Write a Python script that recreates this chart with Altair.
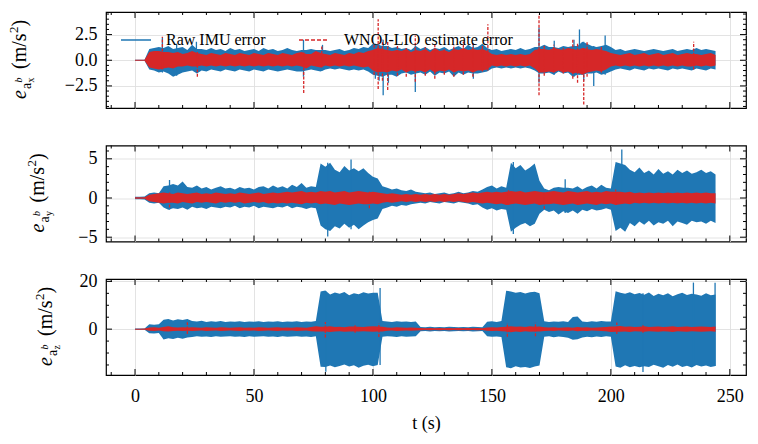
import altair as alt
import pandas as pd

T = list(range(0, 245, 2))

# panel 1: x-axis acceleration error -- bands (upper / lower envelope)
BU1 = [0.05, 0.05, 0.05, 1.1, 1.2, 1.3, 1.2, 1.4, 1.1, 1.2,
       1.3, 1.0, 1.5, 1.1, 1.1, 1.0, 1.2, 1.0, 1.1, 0.9,
       1.2, 1.0, 1.1, 0.9, 1.0, 1.1, 0.9, 1.2, 1.0, 1.1,
       0.9, 1.0, 1.2, 1.0, 0.9, 1.0, 1.0, 1.1, 1.0, 1.0,
       1.0, 0.9, 1.0, 1.1, 0.9, 1.0, 1.2, 1.1, 1.3, 1.2,
       1.6, 1.5, 1.4, 1.4, 1.2, 1.3, 1.1, 1.2, 1.0, 1.4,
       1.1, 1.3, 1.0, 1.2, 1.1, 1.3, 1.0, 1.2, 1.4, 1.1,
       1.5, 1.2, 1.3, 1.6, 1.2, 1.0, 1.1, 0.9, 1.0, 1.1,
       1.0, 1.2, 1.0, 1.1, 1.3, 1.3, 1.5, 1.3, 1.3, 1.2,
       1.4, 1.3, 1.4, 1.4, 1.8, 1.6, 1.4, 1.3, 1.4, 1.5,
       1.3, 1.0, 1.1, 0.9, 1.0, 1.1, 1.0, 0.9, 1.0, 1.1,
       1.0, 0.9, 1.0, 1.1, 0.9, 1.0, 1.1, 1.0, 1.2, 1.0,
       1.1, 1.0, 0.9]
BL1 = [-0.05, -0.05, -0.05, -0.9, -1.0, -1.2, -1.1, -1.3, -1.6, -1.4,
       -1.2, -1.1, -1.0, -1.3, -1.0, -1.1, -0.9, -1.0, -1.1, -0.9,
       -1.0, -1.1, -0.9, -1.0, -1.1, -0.9, -1.0, -1.1, -0.9, -1.0,
       -1.1, -1.0, -0.9, -1.0, -1.1, -1.1, -1.0, -0.9, -1.0, -1.1,
       -0.9, -0.8, -0.9, -0.8, -0.9, -1.0, -0.9, -1.0, -0.9, -1.1,
       -1.4, -1.5, -1.6, -1.4, -1.4, -1.6, -1.3, -1.2, -1.4, -1.3,
       -1.2, -1.4, -1.1, -1.5, -1.2, -1.3, -1.1, -1.6, -1.2, -1.4,
       -1.2, -1.3, -1.3, -1.2, -1.1, -0.8, -0.7, -0.8, -0.7, -0.8,
       -0.7, -0.8, -0.7, -0.8, -1.0, -1.3, -1.3, -1.2, -1.4, -1.1,
       -1.3, -1.2, -1.6, -1.4, -1.4, -1.3, -1.3, -1.2, -1.4, -1.3,
       -1.1, -0.9, -0.8, -0.9, -1.0, -0.8, -0.9, -1.0, -0.8, -0.9,
       -0.8, -0.9, -1.0, -0.8, -0.9, -0.8, -0.9, -1.0, -0.8, -0.9,
       -1.0, -0.8, -0.9]
RU1 = [0.05, 0.05, 0.05, 0.8, 0.9, 0.9, 0.8, 0.8, 0.7, 0.8,
       0.6, 0.7, 0.9, 0.7, 0.6, 0.5, 0.7, 0.6, 0.5, 0.7,
       0.6, 0.5, 0.7, 0.6, 0.5, 0.7, 0.6, 0.5, 0.7, 0.6,
       0.5, 0.7, 0.6, 0.5, 0.7, 0.8, 0.6, 0.6, 0.9, 0.7,
       0.6, 0.5, 0.7, 0.6, 0.5, 0.7, 0.6, 0.8, 0.7, 0.9,
       1.0, 1.2, 1.1, 1.0, 0.9, 1.0, 0.9, 1.1, 0.8, 1.0,
       0.9, 1.1, 0.8, 1.2, 0.9, 1.0, 0.8, 1.1, 1.0, 1.2,
       1.0, 1.1, 1.0, 1.1, 0.9, 0.6, 0.5, 0.6, 0.5, 0.6,
       0.5, 0.6, 0.5, 0.6, 1.0, 1.1, 1.1, 1.0, 1.2, 1.1,
       1.0, 1.2, 1.1, 1.0, 1.2, 1.1, 1.0, 1.1, 1.0, 0.9,
       0.7, 0.6, 0.5, 0.6, 0.7, 0.5, 0.6, 0.7, 0.5, 0.6,
       0.7, 0.5, 0.6, 0.7, 0.5, 0.6, 0.7, 0.6, 0.6, 0.5,
       0.6, 0.7, 0.5]
RL1 = [-0.05, -0.05, -0.05, -0.7, -0.8, -0.9, -0.8, -0.7, -0.8, -0.6,
       -0.6, -0.5, -0.6, -0.6, -0.5, -0.6, -0.5, -0.6, -0.5, -0.6,
       -0.5, -0.6, -0.5, -0.6, -0.5, -0.6, -0.5, -0.6, -0.5, -0.6,
       -0.5, -0.6, -0.5, -0.6, -0.5, -0.6, -0.8, -0.5, -0.6, -0.7,
       -0.5, -0.6, -0.5, -0.6, -0.5, -0.6, -0.5, -0.6, -0.7, -0.6,
       -1.0, -1.2, -1.1, -1.2, -1.0, -1.1, -0.9, -1.2, -1.0, -1.1,
       -1.0, -1.2, -0.9, -1.2, -1.0, -1.1, -0.9, -1.2, -1.0, -1.1,
       -1.0, -1.2, -1.0, -1.0, -0.9, -0.5, -0.6, -0.5, -0.6, -0.5,
       -0.6, -0.5, -0.6, -0.5, -0.8, -1.2, -1.2, -1.1, -1.2, -1.0,
       -1.2, -1.1, -1.3, -1.2, -1.4, -1.2, -1.1, -1.0, -1.1, -0.9,
       -0.6, -0.5, -0.6, -0.5, -0.6, -0.5, -0.6, -0.5, -0.6, -0.5,
       -0.6, -0.5, -0.6, -0.5, -0.6, -0.5, -0.6, -0.6, -0.5, -0.6,
       -0.5, -0.6, -0.5]
# panel 1 spikes: time, low end, high end
B1_SPK_T = [11.5, 17.5, 25.8, 70.8, 78.8, 101.0, 102.6, 104.3, 106.5, 117.8,
            142.2, 169.8, 176.2, 184.5, 186.8, 188.6, 192.8, 197.6]
B1_SPK_LO = [-1.2, -1.5, -1.0, -1.6, -1.0, -1.8, -2.0, -3.4, -2.2, -3.1,
             -1.8, -2.2, -1.4, -1.6, -1.4, -2.0, -2.5, -1.4]
B1_SPK_HI = [2.2, 1.6, 1.8, 2.0, 1.5, 1.6, 1.5, 2.0, 1.4, 1.4,
             1.6, 3.2, 1.9, 2.0, 3.0, 1.8, 1.4, 2.4]
R1_SPK_T = [11.5, 26.2, 70.9, 78.5, 100.5, 102.2, 104.0, 106.2, 110.3, 114.0,
            117.8, 122.0, 126.0, 130.0, 134.0, 138.0, 142.0, 146.0, 148.3, 169.8,
            172.0, 176.0, 180.0, 184.0, 186.0, 188.6, 190.0, 196.0, 234.8]
R1_SPK_LO = [-0.9, -1.6, -3.2, -0.7, -1.4, -2.8, -2.0, -2.9, -1.5, -1.6,
             -2.1, -1.5, -1.8, -1.4, -1.6, -1.4, -1.6, -1.1, -1.0, -3.4,
             -1.5, -1.2, -1.3, -1.8, -2.2, -4.3, -1.6, -1.2, -0.9]
R1_SPK_HI = [2.3, 0.8, 0.8, 1.4, 1.5, 4.0, 2.0, 1.8, 1.4, 1.2,
             2.4, 1.3, 1.6, 1.2, 1.5, 1.8, 1.6, 1.4, 3.5, 4.5,
             1.4, 1.5, 1.3, 2.0, 1.6, 1.2, 1.8, 1.4, 1.8]

# panel 2: y-axis acceleration error
BU2 = [0.15, 0.15, 0.2, 0.6, 0.7, 0.6, 1.5, 1.6, 1.8, 1.6,
       2.1, 1.4, 1.3, 1.6, 1.2, 1.4, 1.1, 1.3, 1.5, 1.2,
       1.3, 1.1, 1.4, 1.2, 1.3, 1.1, 1.4, 1.5, 1.2, 1.6,
       1.3, 1.5, 1.2, 1.7, 1.4, 1.9, 1.3, 1.5, 1.4, 4.4,
       4.0, 4.5, 3.6, 3.3, 4.1, 3.5, 3.8, 3.4, 3.8, 3.2,
       2.7, 2.5, 1.5, 1.3, 1.1, 1.2, 1.0, 0.9, 1.1, 0.8,
       0.7, 0.6, 0.7, 0.5, 0.6, 0.7, 0.5, 0.6, 0.8, 0.6,
       0.7, 0.9, 0.8, 1.1, 1.4, 1.6, 1.2, 1.5, 1.3, 4.5,
       3.8, 4.2, 3.5, 3.9, 4.4, 2.2, 1.2, 1.0, 1.3, 1.4,
       1.3, 1.3, 1.2, 1.5, 1.1, 1.4, 1.6, 1.2, 1.7, 1.3,
       1.2, 4.6, 4.4, 4.2, 3.6, 3.3, 3.9, 3.2, 3.5, 3.0,
       3.7, 3.1, 3.4, 3.0, 3.6, 3.2, 3.5, 3.1, 3.3, 3.6,
       3.2, 3.4, 3.0]
BL2 = [-0.15, -0.15, -0.2, -0.6, -0.7, -0.6, -1.2, -1.5, -1.3, -1.4,
       -1.2, -1.5, -1.1, -1.3, -1.2, -1.4, -1.1, -1.2, -1.3, -1.1,
       -1.2, -1.0, -1.3, -1.1, -1.2, -1.0, -1.3, -1.1, -1.2, -1.3,
       -1.1, -1.2, -1.0, -1.3, -1.1, -1.2, -1.4, -1.2, -1.3, -3.5,
       -4.0, -4.2, -3.6, -3.9, -3.3, -3.8, -3.4, -4.0, -3.5, -3.1,
       -2.8, -2.6, -1.4, -1.2, -1.0, -1.1, -0.9, -1.0, -0.8, -0.7,
       -0.6, -0.7, -0.5, -0.6, -0.7, -0.5, -0.6, -0.7, -0.5, -0.6,
       -0.7, -0.9, -0.8, -1.2, -1.5, -1.3, -1.6, -1.4, -1.5, -4.3,
       -3.8, -3.4, -3.2, -3.6, -3.3, -2.0, -1.5, -1.8, -1.6, -2.1,
       -1.7, -1.9, -1.6, -2.0, -1.5, -1.7, -1.4, -1.6, -1.5, -1.3,
       -1.5, -4.2, -3.8, -4.3, -3.2, -3.6, -3.0, -3.4, -2.9, -3.5,
       -3.1, -3.3, -2.9, -3.6, -3.0, -3.2, -3.4, -2.9, -3.1, -3.0,
       -3.3, -2.9, -3.2]
RU2 = [0.1, 0.1, 0.1, 0.4, 0.5, 0.6, 0.7, 0.6, 0.5, 0.7,
       0.6, 0.5, 0.6, 0.7, 0.5, 0.6, 0.5, 0.7, 0.6, 0.5,
       0.6, 0.5, 0.7, 0.6, 0.5, 0.6, 0.7, 0.5, 0.6, 0.7,
       0.6, 0.7, 0.8, 0.7, 0.8, 0.9, 0.7, 0.8, 0.7, 0.9,
       0.8, 0.9, 0.7, 0.8, 0.9, 0.7, 0.8, 0.9, 0.8, 0.7,
       0.8, 0.7, 0.6, 0.5, 0.6, 0.5, 0.4, 0.5, 0.4, 0.5,
       0.4, 0.5, 0.4, 0.5, 0.4, 0.5, 0.4, 0.5, 0.6, 0.5,
       0.6, 0.7, 0.6, 0.7, 0.8, 0.7, 0.8, 0.7, 0.8, 0.9,
       0.8, 0.9, 0.7, 0.8, 0.9, 0.8, 0.7, 0.8, 0.9, 0.8,
       0.7, 0.9, 0.8, 0.7, 0.8, 0.9, 0.7, 0.8, 0.7, 0.9,
       0.8, 0.8, 0.8, 0.7, 0.8, 0.6, 0.7, 0.6, 0.7, 0.6,
       0.7, 0.6, 0.7, 0.6, 0.7, 0.6, 0.7, 0.6, 0.7, 0.6,
       0.7, 0.6, 0.6]
RL2 = [-0.1, -0.1, -0.1, -0.4, -0.5, -0.6, -0.7, -0.6, -0.6, -0.7,
       -0.5, -0.6, -0.7, -0.5, -0.6, -0.5, -0.6, -0.7, -0.5, -0.6,
       -0.5, -0.6, -0.5, -0.7, -0.6, -0.5, -0.6, -0.5, -0.7, -0.6,
       -0.7, -0.6, -0.7, -0.6, -0.7, -0.8, -0.6, -0.7, -0.6, -0.8,
       -0.7, -0.8, -0.9, -0.7, -0.8, -0.9, -0.8, -0.7, -0.8, -0.8,
       -0.7, -0.8, -0.6, -0.5, -0.6, -0.5, -0.4, -0.5, -0.4, -0.5,
       -0.4, -0.5, -0.4, -0.5, -0.4, -0.5, -0.4, -0.5, -0.4, -0.5,
       -0.6, -0.5, -0.6, -0.7, -0.6, -0.7, -0.8, -0.7, -0.9, -0.8,
       -0.7, -0.8, -0.9, -0.8, -0.7, -0.9, -0.8, -0.8, -0.7, -0.8,
       -0.9, -0.8, -0.7, -0.9, -0.8, -0.7, -0.8, -0.9, -0.7, -0.8,
       -0.7, -0.9, -0.8, -0.7, -0.8, -0.6, -0.7, -0.6, -0.7, -0.6,
       -0.7, -0.6, -0.7, -0.6, -0.7, -0.6, -0.7, -0.6, -0.7, -0.6,
       -0.7, -0.6, -0.7]
B2_SPK_T = [14.5, 81.0, 90.8, 159.0, 180.8, 204.6]
B2_SPK_LO = [-1.5, -4.9, -4.0, -4.6, -1.9, -3.8]
B2_SPK_HI = [2.3, 4.5, 4.9, 4.6, 2.4, 6.2]
R2_SPK_T = [14.5, 98.5, 157.0, 172.0, 202.0]
R2_SPK_LO = [-1.2, -1.3, -0.9, -1.4, -0.9]
R2_SPK_HI = [0.7, 0.8, 1.0, 0.7, 1.1]

# panel 3: z-axis acceleration error
BU3 = [0.3, 0.3, 0.3, 2.0, 1.8, 2.1, 3.9, 4.3, 3.6, 4.1,
       3.8, 4.2, 3.4, 3.2, 3.5, 3.0, 3.3, 3.1, 3.4, 3.0,
       3.2, 3.1, 3.3, 3.0, 3.2, 3.1, 3.3, 3.0, 3.2, 3.1,
       3.3, 3.0, 3.2, 3.1, 3.3, 3.0, 3.2, 3.1, 3.4, 15.8,
       16.2, 14.5, 15.3, 14.8, 15.6, 14.2, 15.0, 14.6, 15.4, 14.9,
       15.2, 15.2, 3.4, 3.2, 3.0, 3.3, 3.1, 3.2, 3.0, 3.2,
       0.9, 0.8, 1.0, 0.8, 0.9, 0.8, 1.0, 0.9, 0.8, 0.9,
       0.8, 1.0, 0.9, 0.8, 3.1, 3.3, 3.0, 3.4, 16.1, 15.8,
       15.2, 15.6, 14.9, 15.4, 15.7, 15.0, 3.3, 3.0, 3.2, 3.1,
       3.3, 3.0, 5.1, 5.3, 3.2, 3.0, 3.3, 3.1, 3.4, 3.2,
       3.2, 15.9, 15.2, 14.8, 15.5, 14.6, 15.1, 14.4, 15.3, 13.9,
       14.8, 14.2, 15.0, 13.8, 14.6, 15.2, 14.3, 14.8, 14.5, 14.0,
       15.0, 14.2, 14.5]
BL3 = [-0.3, -0.3, -0.3, -1.7, -1.8, -1.6, -4.3, -3.8, -4.1, -3.6,
       -4.0, -3.5, -3.3, -3.0, -3.2, -3.1, -3.3, -3.0, -3.2, -3.1,
       -3.0, -3.2, -3.1, -3.3, -3.0, -3.2, -3.1, -3.0, -3.2, -3.1,
       -3.3, -3.0, -3.2, -3.1, -3.0, -3.2, -3.1, -3.3, -3.0, -15.7,
       -15.8, -15.2, -16.0, -15.4, -14.8, -15.6, -15.1, -16.2, -15.3, -14.9,
       -15.5, -15.0, -3.2, -3.0, -3.1, -3.3, -3.0, -3.2, -3.1, -3.0,
       -0.9, -0.8, -1.0, -0.8, -0.9, -0.8, -1.0, -0.9, -0.8, -0.9,
       -0.8, -1.0, -0.9, -0.8, -3.0, -3.2, -3.1, -3.3, -16.0, -16.4,
       -15.5, -16.1, -15.8, -16.3, -15.6, -15.2, -3.2, -3.0, -3.4, -3.1,
       -3.3, -3.6, -4.4, -4.2, -3.5, -3.2, -3.4, -3.1, -3.3, -3.0,
       -3.2, -15.6, -16.2, -15.1, -16.0, -15.4, -16.0, -15.5, -15.8, -14.9,
       -15.5, -16.2, -15.0, -15.7, -14.8, -15.9, -15.3, -16.1, -15.0, -15.6,
       -15.2, -15.8, -15.4]
RU3 = [0.2, 0.2, 0.3, 0.7, 0.8, 0.6, 0.9, 1.2, 0.8, 0.7,
       0.8, 0.7, 0.8, 0.7, 0.6, 0.8, 0.7, 0.6, 0.8, 0.7,
       0.6, 0.7, 0.8, 0.6, 0.7, 0.6, 0.8, 0.7, 0.6, 0.7,
       0.8, 0.6, 0.7, 0.6, 0.8, 0.7, 0.6, 0.9, 1.2, 1.0,
       1.0, 1.2, 0.9, 1.0, 0.8, 1.1, 1.1, 1.0, 0.9, 1.1,
       1.2, 1.1, 1.0, 0.7, 0.6, 0.8, 0.7, 0.6, 0.7, 0.6,
       0.5, 0.4, 0.5, 0.4, 0.5, 0.4, 0.5, 0.4, 0.5, 0.4,
       0.5, 0.4, 0.5, 0.4, 0.7, 0.8, 0.7, 0.9, 1.0, 1.2,
       1.0, 1.1, 0.9, 1.2, 1.0, 1.1, 0.8, 0.7, 0.8, 0.6,
       0.7, 0.8, 0.6, 0.9, 0.7, 0.8, 0.6, 0.7, 0.8, 0.9,
       1.1, 1.1, 1.3, 1.0, 1.1, 0.9, 1.0, 1.2, 0.9, 1.0,
       1.1, 0.9, 1.0, 1.2, 0.9, 1.0, 1.1, 0.9, 1.0, 1.1,
       1.0, 0.9, 1.1]
RL3 = [-0.2, -0.2, -0.3, -0.7, -0.8, -0.6, -0.9, -1.0, -0.8, -0.7,
       -0.8, -0.7, -0.8, -0.7, -0.6, -0.8, -0.7, -0.6, -0.8, -0.7,
       -0.6, -0.7, -0.8, -0.6, -0.7, -0.6, -0.8, -0.7, -0.6, -0.7,
       -0.8, -0.6, -0.7, -0.6, -0.8, -0.7, -0.6, -0.9, -1.0, -1.0,
       -1.0, -1.2, -1.0, -0.9, -1.1, -1.0, -1.0, -1.0, -0.9, -1.0,
       -1.1, -1.0, -1.0, -0.7, -0.6, -0.8, -0.7, -0.6, -0.7, -0.6,
       -0.5, -0.4, -0.5, -0.4, -0.5, -0.4, -0.5, -0.4, -0.5, -0.4,
       -0.5, -0.4, -0.5, -0.4, -0.7, -0.8, -0.7, -0.9, -1.0, -1.3,
       -1.0, -1.2, -0.9, -1.1, -1.0, -1.0, -0.8, -0.7, -0.8, -0.6,
       -0.7, -0.8, -0.6, -0.9, -0.7, -0.8, -0.6, -0.7, -0.8, -0.9,
       -1.2, -1.1, -1.1, -1.0, -1.2, -0.9, -1.0, -1.1, -0.9, -1.0,
       -1.1, -0.9, -1.0, -1.2, -0.9, -1.0, -1.1, -0.9, -1.0, -1.1,
       -1.0, -0.9, -1.1]
B3_SPK_T = [80.2, 103.0, 213.5, 234.7, 243.8]
B3_SPK_LO = [-17.8, -15.0, -17.9, -15.0, -15.4]
B3_SPK_HI = [15.8, 17.2, 15.0, 19.5, 19.4]
R3_SPK_T = [22.0, 80.0, 92.5, 102.5, 156.5, 168.3, 202.5, 213.5]
R3_SPK_LO = [-2.0, -3.5, -1.5, -3.3, -3.2, -3.0, -2.0, -1.5]
R3_SPK_HI = [2.9, 3.0, 2.0, 2.5, 2.6, 2.8, 2.8, 1.8]

SERIES = ["Raw IMU error", "WNOJ-LIO estimate error"]

X_DOMAIN = [-12.2, 256.8]
X_MAJOR = [0, 50, 100, 150, 200, 250]
X_MINOR = [-10, 10, 20, 30, 40, 60, 70, 80, 90, 110, 120, 130, 140,
           160, 170, 180, 190, 210, 220, 230, 240]

Y1_DOMAIN = [-4.65, 4.7]
Y1_MAJOR = [-2.5, 0, 2.5]
Y1_MINOR = [-4.5, -4, -3.5, -3, -2, -1.5, -1, -0.5, 0.5, 1, 1.5, 2, 3, 3.5, 4, 4.5]
Y2_DOMAIN = [-5.55, 6.7]
Y2_MAJOR = [-5, 0, 5]
Y2_MINOR = [-4, -3, -2, -1, 1, 2, 3, 4, 6]
Y3_DOMAIN = [-19.2, 21.0]
Y3_MAJOR = [0, 20]
Y3_MINOR = [-15, -10, -5, 5, 10, 15]

# ---------------- style ----------------
W, H = 640, 96
FONT = "Liberation Serif"
BLUE = "#1f77b4"
RED = "#d62728"
MAJ, MINL = 6, 3
TICK_FS = 18
ONE = pd.DataFrame({"k": [0]})


def panel(bu, bl, ru, rl, bspk, rspk, ydom, ymaj, ymin, fmt, letter, lx, bottom, legend):
    xaxis = alt.Axis(values=X_MAJOR, grid=True, ticks=False, domain=False,
                     labels=bottom, title="t (s)" if bottom else None,
                     format="d", labelPadding=12, titlePadding=9,
                     labelFont=FONT, labelFontSize=TICK_FS, titleFont=FONT, titleFontSize=18)
    yaxis = alt.Axis(values=ymaj, grid=True, ticks=False, domain=False,
                     format=fmt, title=None, labelPadding=9,
                     labelFont=FONT, labelFontSize=TICK_FS)
    xs = alt.Scale(domain=X_DOMAIN, nice=False, zero=False)
    ys = alt.Scale(domain=ydom, nice=False, zero=False)

    def X(f):
        return alt.X(f, scale=xs, axis=xaxis)

    def Y(f):
        return alt.Y(f, scale=ys, axis=yaxis)

    band = pd.DataFrame({"t": T, "hi": bu, "lo": bl})
    rband = pd.DataFrame({"t": T, "hi": ru, "lo": rl})
    bs = pd.DataFrame({"t": bspk[0], "lo": bspk[1], "hi": bspk[2]})
    rs = pd.DataFrame({"t": rspk[0], "lo": rspk[1], "hi": rspk[2]})

    layers = [
        alt.Chart(band).mark_area(color=BLUE, opacity=1, clip=True).encode(
            x=X("t:Q"), y=Y("hi:Q"), y2="lo:Q"),
        alt.Chart(bs).mark_rule(color=BLUE, strokeWidth=1.3, clip=True).encode(
            x=X("t:Q"), y=Y("lo:Q"), y2="hi:Q"),
        alt.Chart(rband).mark_area(color=RED, opacity=1, clip=True).encode(
            x=X("t:Q"), y=Y("hi:Q"), y2="lo:Q"),
        alt.Chart(rs).mark_rule(color=RED, strokeWidth=1.3, strokeDash=[3, 1.5], clip=True).encode(
            x=X("t:Q"), y=Y("lo:Q"), y2="hi:Q"),
    ]

    def xticks(vals, length):
        df = pd.DataFrame({"t": vals})
        return [
            alt.Chart(df).mark_rule(color="black", strokeWidth=1).encode(
                x=X("t:Q"), y=alt.value(H), y2=alt.value(H - length)),
            alt.Chart(df).mark_rule(color="black", strokeWidth=1).encode(
                x=X("t:Q"), y=alt.value(0), y2=alt.value(length)),
        ]

    def yticks(vals, length):
        df = pd.DataFrame({"hi": vals})
        return [
            alt.Chart(df).mark_rule(color="black", strokeWidth=1).encode(
                y=Y("hi:Q"), x=alt.value(0), x2=alt.value(length)),
            alt.Chart(df).mark_rule(color="black", strokeWidth=1).encode(
                y=Y("hi:Q"), x=alt.value(W), x2=alt.value(W - length)),
        ]

    layers += xticks(X_MAJOR, MAJ) + xticks(X_MINOR, MINL)
    layers += yticks(ymaj, MAJ) + yticks(ymin, MINL)

    def txt(text, size, x, y, italic=False):
        return alt.Chart(ONE).mark_text(
            text=text, font=FONT, fontSize=size, angle=270, align="left",
            baseline="alphabetic", color="black",
            fontStyle="italic" if italic else "normal",
        ).encode(x=alt.value(x), y=alt.value(y))

    y0 = 87
    layers += [
        txt("e", 20, lx, y0, True),
        txt("a", 14, lx + 5, y0 - 10),
        txt(letter, 10, lx + 8, y0 - 16.5),
        txt("b", 10, lx - 4, y0 - 16.5, True),
        txt("(m/s", 20, lx, y0 - 30),
        txt("2", 13, lx - 8, y0 - 66),
        txt(")", 20, lx, y0 - 72.5),
    ]

    if legend:
        leg_df = pd.DataFrame({"t": [0, 0], "hi": [0, 0], "series": SERIES})
        lg = alt.Legend(orient="none", legendX=14, legendY=12, direction="horizontal",
                        title=None, labelFont=FONT, labelFontSize=16, labelColor="black",
                        labelLimit=400, symbolType="stroke", symbolSize=900,
                        symbolStrokeWidth=1.3, symbolOpacity=1, labelOffset=14,
                        columnPadding=30, padding=0)
        ghost = alt.Chart(leg_df).mark_line(opacity=0).encode(
            x=X("t:Q"), y=Y("hi:Q"),
            color=alt.Color("series:N", scale=alt.Scale(domain=SERIES, range=[BLUE, RED]), legend=lg),
            strokeDash=alt.StrokeDash("series:N", scale=alt.Scale(domain=SERIES, range=[[1, 0], [4, 2]]), legend=lg),
        )
        layers.append(ghost)

    return alt.layer(*layers).properties(width=W, height=H)


p1 = panel(BU1, BL1, RU1, RL1, (B1_SPK_T, B1_SPK_LO, B1_SPK_HI), (R1_SPK_T, R1_SPK_LO, R1_SPK_HI),
           Y1_DOMAIN, Y1_MAJOR, Y1_MINOR, ".1f", "x", -80, False, True)
p2 = panel(BU2, BL2, RU2, RL2, (B2_SPK_T, B2_SPK_LO, B2_SPK_HI), (R2_SPK_T, R2_SPK_LO, R2_SPK_HI),
           Y2_DOMAIN, Y2_MAJOR, Y2_MINOR, "d", "y", -62, False, False)
p3 = panel(BU3, BL3, RU3, RL3, (B3_SPK_T, B3_SPK_LO, B3_SPK_HI), (R3_SPK_T, R3_SPK_LO, R3_SPK_HI),
           Y3_DOMAIN, Y3_MAJOR, Y3_MINOR, "d", "z", -54, True, False)

chart = alt.vconcat(p1, p2, p3, spacing=37.5, bounds="flush").resolve_legend(
    color="independent", strokeDash="independent"
).properties(
    padding={"left": 7, "top": 10, "right": 5, "bottom": 5},
    background="white",
).configure_view(
    stroke="black", strokeWidth=1.2
).configure_axis(
    labelFont=FONT, labelFontSize=TICK_FS, labelColor="black",
    titleFont=FONT, titleFontSize=18, titleColor="black", titleFontWeight="normal",
    gridColor="#e0e0e0", gridWidth=0.9,
)

chart.save("out.html", embed_options={"renderer": "svg", "actions": False})
